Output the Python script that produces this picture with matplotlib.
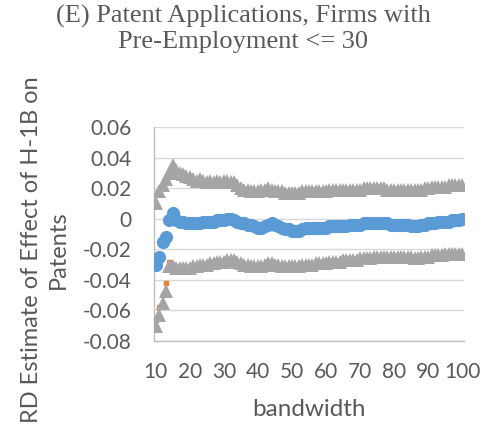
import numpy as np
import matplotlib
matplotlib.use("Agg")
import matplotlib.pyplot as plt

# ---- data ----
bandwidth = list(range(10, 101))

estimate = [
    -0.030, -0.025, -0.015, -0.012, -0.001, 0.004, -0.001, -0.002, -0.002, -0.003,  # 10-19
    -0.003, -0.003, -0.003, -0.003, -0.002, -0.002, -0.002, -0.002, -0.001, -0.001,  # 20-29
    -0.001, 0.000, 0.000, -0.001, -0.002, -0.003, -0.003, -0.004, -0.004, -0.005,    # 30-39
    -0.006, -0.006, -0.005, -0.004, -0.003, -0.004, -0.005, -0.006, -0.007, -0.007,  # 40-49
    -0.008, -0.008, -0.008, -0.007, -0.006, -0.006, -0.006, -0.006, -0.006, -0.006,  # 50-59
    -0.006, -0.005, -0.005, -0.005, -0.005, -0.005, -0.005, -0.004, -0.004, -0.004,  # 60-69
    -0.004, -0.003, -0.003, -0.003, -0.003, -0.003, -0.003, -0.003, -0.003, -0.004,  # 70-79
    -0.004, -0.004, -0.004, -0.004, -0.004, -0.005, -0.005, -0.005, -0.004, -0.004,  # 80-89
    -0.003, -0.003, -0.003, -0.002, -0.002, -0.002, -0.002, -0.001, -0.001, -0.001,  # 90-99
    0.000,                                                                            # 100
]

upper_ci = [
    0.010, 0.018, 0.022, 0.026, 0.030, 0.035, 0.032, 0.030, 0.029, 0.028,  # 10-19
    0.027, 0.026, 0.025, 0.026, 0.025, 0.024, 0.025, 0.024, 0.025, 0.024,  # 20-29
    0.025, 0.025, 0.024, 0.024, 0.022, 0.020, 0.019, 0.019, 0.018, 0.018,  # 30-39
    0.018, 0.019, 0.019, 0.020, 0.019, 0.018, 0.018, 0.018, 0.017, 0.017,  # 40-49
    0.017, 0.017, 0.017, 0.018, 0.018, 0.018, 0.018, 0.018, 0.018, 0.018,  # 50-59
    0.018, 0.019, 0.019, 0.019, 0.019, 0.019, 0.019, 0.019, 0.019, 0.019,  # 60-69
    0.019, 0.020, 0.020, 0.020, 0.020, 0.020, 0.020, 0.020, 0.019, 0.019,  # 70-79
    0.019, 0.019, 0.019, 0.019, 0.019, 0.019, 0.019, 0.019, 0.019, 0.020,  # 80-89
    0.020, 0.021, 0.021, 0.021, 0.021, 0.021, 0.022, 0.022, 0.022, 0.022,  # 90-99
    0.022,                                                                  # 100
]

lower_ci = [
    -0.070, -0.063, -0.055, -0.047, -0.031, -0.031, -0.032, -0.032, -0.032, -0.032,  # 10-19
    -0.032, -0.031, -0.031, -0.030, -0.030, -0.030, -0.029, -0.029, -0.028, -0.028,  # 20-29
    -0.028, -0.027, -0.027, -0.027, -0.028, -0.029, -0.030, -0.030, -0.031, -0.031,  # 30-39
    -0.031, -0.031, -0.030, -0.029, -0.029, -0.030, -0.030, -0.031, -0.031, -0.031,  # 40-49
    -0.031, -0.031, -0.031, -0.030, -0.030, -0.030, -0.030, -0.029, -0.029, -0.029,  # 50-59
    -0.029, -0.028, -0.028, -0.028, -0.028, -0.027, -0.027, -0.027, -0.027, -0.027,  # 60-69
    -0.026, -0.026, -0.026, -0.026, -0.025, -0.025, -0.025, -0.025, -0.025, -0.025,  # 70-79
    -0.025, -0.025, -0.025, -0.025, -0.025, -0.025, -0.026, -0.026, -0.025, -0.025,  # 80-89
    -0.025, -0.024, -0.024, -0.024, -0.024, -0.023, -0.023, -0.023, -0.023, -0.023,  # 90-99
    -0.023,                                                                           # 100
]

# orange series, visible only near the start (hidden under the gray markers elsewhere)
orange_vals = [-0.066, -0.058, -0.050, -0.042, -0.028] + [np.nan] * 86

y_ticks = [0.06, 0.04, 0.02, 0, -0.02, -0.04, -0.06, -0.08]
y_tick_labels = ["0.06", "0.04", "0.02", "0", "-0.02", "-0.04", "-0.06", "-0.08"]
x_ticks = [10, 20, 30, 40, 50, 60, 70, 80, 90, 100]

title_lines = "(E) Patent Applications, Firms with\nPre-Employment <= 30"
ylabel = "RD Estimate of Effect of H-1B on\nPatents"
xlabel = "bandwidth"

# ---- figure ----
W, H = 485, 433
fig = plt.figure(figsize=(W / 100, H / 100), dpi=100)
L, R, T, B = 154, 464, 127, 341
ax = fig.add_axes([L / W, 1 - B / H, (R - L) / W, (B - T) / H])

TXT = "#595959"
BLUE = "#5B9BD5"
GRAY = "#A5A5A5"
ORANGE = "#ED7D31"
sans = "Lato"

for y in y_ticks:
    ax.axhline(y, color="#D9D9D9", lw=1.0, zorder=0)

ax.plot(bandwidth, orange_vals, ls="none", marker="s", ms=3, color=ORANGE, mec=ORANGE, zorder=2)
ax.plot(bandwidth, upper_ci, ls="none", marker="^", ms=10.5, color=GRAY, mec=GRAY, mew=0, zorder=3)
ax.plot(bandwidth, lower_ci, ls="none", marker="^", ms=10.5, color=GRAY, mec=GRAY, mew=0, zorder=3)
ax.plot(bandwidth, estimate, ls="none", marker="o", ms=9.5, color=BLUE, mec=BLUE, mew=0, zorder=4)

ax.set_xlim(9.5, 100.5)
ax.set_ylim(-0.08, 0.06)
ax.set_yticks(y_ticks)
ax.set_yticklabels(y_tick_labels)
ax.set_xticks(x_ticks)
ax.set_xticklabels([str(v) for v in x_ticks])
ax.tick_params(axis="both", length=0, labelsize=15, labelcolor=TXT)
ax.tick_params(axis="y", pad=16)
ax.tick_params(axis="x", pad=15)
for lab in ax.get_xticklabels() + ax.get_yticklabels():
    lab.set_fontfamily(sans)

for s in ["top", "right"]:
    ax.spines[s].set_visible(False)
ax.spines["left"].set_color("#BFBFBF")
ax.spines["bottom"].set_color("#BFBFBF")
ax.spines["left"].set_linewidth(1.0)
ax.spines["bottom"].set_linewidth(1.0)
ax.set_facecolor("none")

fig.text(243 / W, 1 - 29 / H, title_lines, ha="center", va="center", fontsize=19,
         family="Liberation Serif", color=TXT, linespacing=1.15)
fig.text(45 / W, 1 - 250 / H, ylabel, ha="center", va="center", rotation=90, fontsize=17,
         family=sans, color=TXT, multialignment="center", linespacing=1.3)
fig.text(309 / W, 1 - 410 / H, xlabel, ha="center", va="center", fontsize=17.5,
         family=sans, color=TXT)

fig.savefig("out.png", dpi=100)
